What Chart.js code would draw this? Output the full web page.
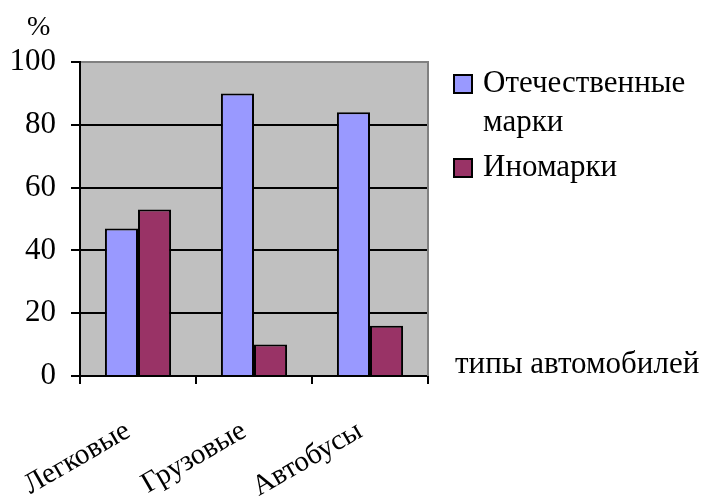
<!DOCTYPE html>
<html>
<head>
<meta charset="utf-8">
<script src="https://cdn.jsdelivr.net/npm/chart.js@4"></script>
<style>
  html, body { margin: 0; padding: 0; background: #fff; }
  #wrap { width: 712px; height: 496px; position: relative; }
</style>
</head>
<body>
<div id="wrap">
  <div style="position:absolute;left:27px;top:12px;font-family:'Liberation Serif';font-size:28px;line-height:1;white-space:nowrap">%</div>
  <div style="position:absolute;left:455px;top:347px;font-family:'Liberation Serif';font-size:31px;line-height:1;white-space:nowrap">типы автомобилей</div>
  <canvas id="c"></canvas>
</div>
<script>
// data
var categories = ['Легковые', 'Грузовые', 'Автобусы'];
var domestic = [47, 90, 84];
var foreign = [53, 10, 16];
var seriesLabels = [['Отечественные', 'марки'], ['Иномарки']];
var yTicks = [0, 20, 40, 60, 80, 100];

var FONT = "'Liberation Serif'";
Chart.defaults.font.family = FONT;
Chart.defaults.font.size = 31;
Chart.defaults.color = '#000';

// gray plot background, gray top/right edge, legend
var decor = {
  id: 'decor',
  beforeDraw: function(chart) {
    var a = chart.chartArea, c = chart.ctx;
    c.save();
    c.fillStyle = '#c0c0c0';
    c.fillRect(a.left, a.top, a.right - a.left, a.bottom - a.top);
    c.restore();
  },
  afterDraw: function(chart) {
    var a = chart.chartArea, c = chart.ctx;
    c.save();
    c.strokeStyle = '#808080';
    c.lineWidth = 2;
    c.beginPath();
    c.moveTo(a.left + 1, a.top);
    c.lineTo(a.right, a.top);
    c.lineTo(a.right, a.bottom);
    c.stroke();

    // legend
    c.font = '31px ' + FONT;
    c.textBaseline = 'middle';
    c.textAlign = 'left';
    var y = 84;
    chart.data.datasets.forEach(function(ds, i) {
      c.fillStyle = ds.backgroundColor;
      c.fillRect(454, y - 9, 18, 18);
      c.strokeStyle = '#000';
      c.lineWidth = 2;
      c.strokeRect(454, y - 9, 18, 18);
      c.fillStyle = '#000';
      seriesLabels[i].forEach(function(line, j) {
        c.fillText(line, 483, y + j * 39);
      });
      y += seriesLabels[i].length * 39 + 6;
    });
    c.restore();
  }
};

var chart = new Chart(document.getElementById('c'), {
  type: 'bar',
  data: {
    labels: categories,
    datasets: [
      { label: seriesLabels[0].join(' '), data: domestic, backgroundColor: '#9999ff', borderColor: '#000', borderWidth: 2 },
      { label: seriesLabels[1].join(' '), data: foreign, backgroundColor: '#993366', borderColor: '#000', borderWidth: 2 }
    ]
  },
  options: {
    responsive: true,
    maintainAspectRatio: false,
    animation: false,
    categoryPercentage: 0.57,
    barPercentage: 1,
    layout: { padding: { top: 62, right: 284, left: 0, bottom: 0 } },
    plugins: { legend: { display: false }, tooltip: { enabled: false } },
    scales: {
      x: {
        grid: { offset: true, drawOnChartArea: false, color: '#000', lineWidth: 2, tickLength: 8 },
        border: { color: '#000', width: 2 },
        ticks: { minRotation: 30, maxRotation: 30, padding: 30, labelOffset: -10, font: { size: 29 } },
        afterFit: function(s) { s.height = 120; s.paddingLeft = 0; s.paddingRight = 0; }
      },
      y: {
        min: 0,
        max: 100,
        afterBuildTicks: function(s) { s.ticks = yTicks.map(function(v) { return { value: v }; }); },
        grid: { color: '#000', lineWidth: 2, tickLength: 9 },
        border: { color: '#000', width: 2 },
        ticks: { padding: 15, font: { size: 31 } },
        afterFit: function(s) { s.width = 80; s.paddingTop = 0; s.paddingBottom = 0; }
      }
    }
  },
  plugins: [decor]
});

// redraw once the serif font is in place
if (document.fonts && document.fonts.ready) {
  document.fonts.ready.then(function() { chart.update(); });
}
</script>
</body>
</html>
